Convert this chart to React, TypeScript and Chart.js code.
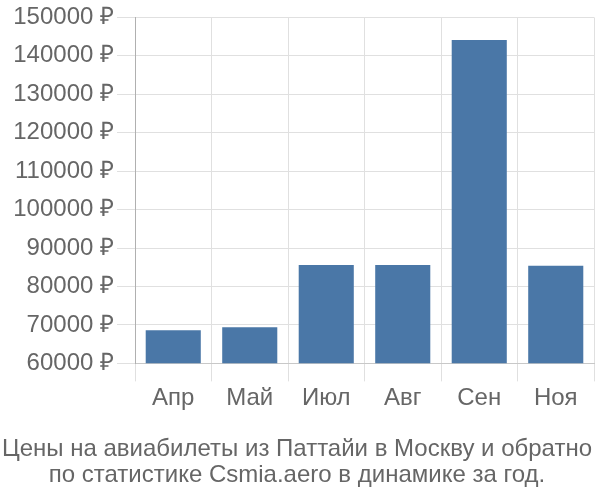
import React, { useEffect, useRef } from "react";
import { Chart, registerables } from "chart.js";

Chart.register(...registerables);

const categories = ["Апр", "Май", "Июл", "Авг", "Сен", "Ноя"];
const prices = [68600, 69400, 85600, 85600, 144100, 85400];
const yMin = 60000;
const yMax = 150000;
const yStep = 10000;
const titleLines = [
  "Цены на авиабилеты из Паттайи в Москву и обратно",
  "по статистике Csmia.aero в динамике за год.",
];

export default function App() {
  const ref = useRef<HTMLCanvasElement | null>(null);
  useEffect(() => {
    if (!ref.current) return;
    const font = "'Liberation Sans', Arial, sans-serif";
    const chart = new Chart(ref.current, {
      type: "bar",
      data: {
        labels: categories,
        datasets: [
          {
            data: prices,
            backgroundColor: "#4a77a7",
            borderWidth: 0,
          },
        ],
      },
      options: {
        animation: false,
        responsive: false,
        layout: { padding: { top: -2, right: 6, left: 0, bottom: 12 } },
        plugins: {
          legend: { display: false },
          tooltip: { enabled: false },
          title: {
            display: true,
            position: "bottom",
            text: titleLines,
            color: "#666",
            font: { family: font, size: 24, weight: "normal", lineHeight: 1.08 },
            padding: { top: 20, bottom: 0 },
          },
        },
        scales: {
          x: {
            grid: { color: "#e0e0e0", tickLength: 18, drawOnChartArea: true },
            border: { color: "#c8c8c8" },
            ticks: { color: "#666", font: { family: font, size: 24 }, padding: 3 },
          },
          y: {
            min: yMin,
            max: yMax,
            afterFit: (s: any) => {
              s.width = 135;
            },
            grid: { color: "#e0e0e0", tickLength: 18 },
            border: { color: "#b0b0b0" },
            ticks: {
              stepSize: yStep,
              color: "#666",
              font: { family: font, size: 24 },
              padding: 3,
              callback: (v: any) => v + " ₽",
            },
          },
        },
      },
    });
    return () => chart.destroy();
  }, []);
  return (
    <div style={{ position: "absolute", left: 0, top: 0, width: 600, height: 500, background: "#fff" }}>
      <canvas ref={ref} width={600} height={500} />
    </div>
  );
}
